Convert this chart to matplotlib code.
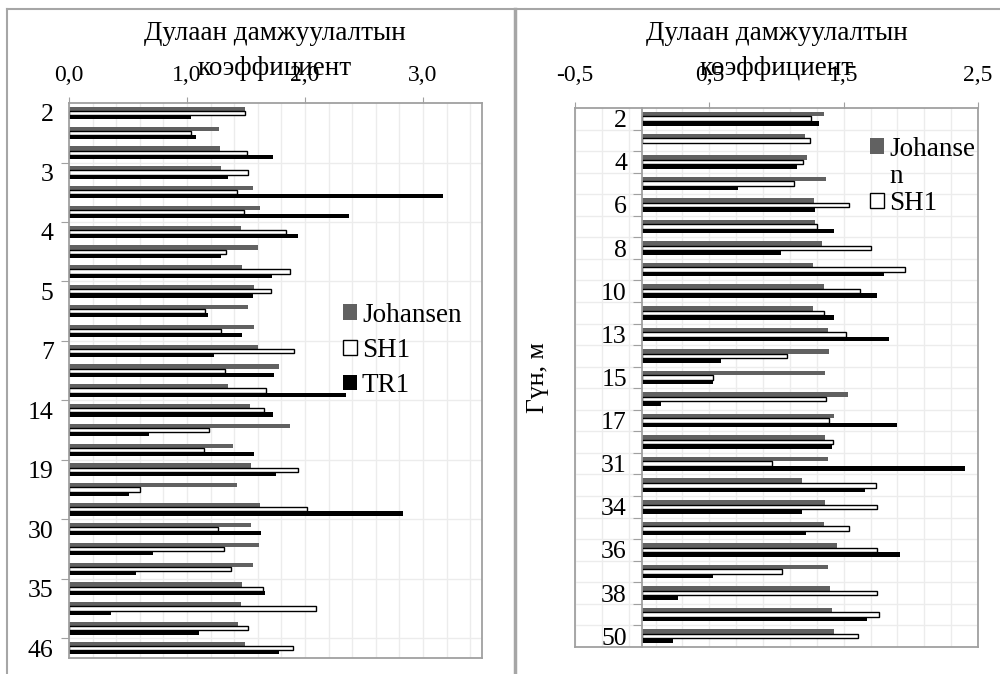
import matplotlib
matplotlib.use('Agg')
import matplotlib.pyplot as plt
from matplotlib.ticker import FuncFormatter, MultipleLocator, NullFormatter
from matplotlib.patches import Patch
from matplotlib.lines import Line2D
import numpy as np

plt.rcParams['font.family'] = ['Liberation Serif', 'DejaVu Serif']

# left chart: 28 depth rows, only every 3rd is labelled
left_depth = ['2', '', '', '3', '', '', '4', '', '', '5', '', '', '7', '', '',
              '14', '', '', '19', '', '', '30', '', '', '35', '', '', '46']
left_joh = [1.49, 1.27, 1.28, 1.29, 1.56, 1.62, 1.46, 1.60, 1.47, 1.57,
            1.52, 1.57, 1.60, 1.78, 1.35, 1.53, 1.87, 1.39, 1.54, 1.42,
            1.62, 1.54, 1.61, 1.56, 1.47, 1.46, 1.43, 1.49]
left_sh1 = [1.49, 1.03, 1.51, 1.52, 1.42, 1.48, 1.84, 1.33, 1.87, 1.71,
            1.15, 1.29, 1.91, 1.32, 1.67, 1.65, 1.19, 1.14, 1.94, 0.60,
            2.02, 1.26, 1.31, 1.37, 1.64, 2.09, 1.52, 1.90]
left_tr1 = [1.03, 1.08, 1.73, 1.35, 3.17, 2.37, 1.94, 1.29, 1.72, 1.56,
            1.18, 1.47, 1.23, 1.74, 2.35, 1.73, 0.68, 1.57, 1.75, 0.51,
            2.83, 1.63, 0.71, 0.57, 1.66, 0.36, 1.10, 1.78]

# right chart: 25 depth rows, every 2nd labelled
right_depth = ['2', '', '4', '', '6', '', '8', '', '10', '', '13', '', '15',
               '', '17', '', '31', '', '34', '', '36', '', '38', '', '50']
right_joh = [1.35, 1.21, 1.23, 1.37, 1.28, 1.29, 1.34, 1.27, 1.35, 1.27,
             1.38, 1.39, 1.36, 1.53, 1.43, 1.36, 1.38, 1.19, 1.36, 1.35,
             1.45, 1.38, 1.40, 1.41, 1.43]
right_sh1 = [1.26, 1.25, 1.20, 1.13, 1.54, 1.30, 1.70, 1.96, 1.62, 1.35,
             1.52, 1.08, 0.53, 1.37, 1.39, 1.42, 0.97, 1.74, 1.75, 1.54,
             1.75, 1.04, 1.75, 1.76, 1.61]
right_tr1 = [1.32, 0.0, 1.15, 0.71, 1.29, 1.43, 1.03, 1.80, 1.75, 1.43,
             1.84, 0.59, 0.53, 0.14, 1.90, 1.41, 2.40, 1.66, 1.19, 1.22,
             1.92, 0.53, 0.27, 1.67, 0.23]

gray = '#616161'
spinec = '#a0a0a0'
gridc = '#ececec'
fs_x = 17
fs_y = 18.5
fs_t = 19.5

comma = FuncFormatter(lambda v, p: ('%.1f' % v).replace('.', ','))

fig = plt.figure(figsize=(10, 6.74), dpi=100)
axL = fig.add_axes([0.069, 0.0237, 0.413, 0.8234])
axR = fig.add_axes([0.575, 0.0401, 0.403, 0.7997])


def bars(ax, joh, sh1, tr1):
    y = np.arange(len(joh))
    h = 0.21
    ax.barh(y - h, joh, height=h, color=gray, lw=0)
    ax.barh(y, sh1, height=h, color='white', edgecolor='black', lw=1)
    ax.barh(y + h, tr1, height=h, color='black', lw=0)
    ax.set_ylim(len(joh) - 0.5, -0.5)
    ax.set_axisbelow(True)
    for s in ax.spines.values():
        s.set_color(spinec)
        s.set_linewidth(1.3)
    ax.xaxis.tick_top()
    ax.xaxis.set_major_formatter(comma)
    ax.grid(axis='x', which='both', color=gridc, lw=1)
    ax.grid(axis='y', which='major', color=gridc, lw=1)
    ax.yaxis.set_major_formatter(NullFormatter())


bars(axL, left_joh, left_sh1, left_tr1)
axL.set_xlim(0, 3.5)
axL.xaxis.set_major_locator(MultipleLocator(1.0))
axL.xaxis.set_minor_locator(MultipleLocator(0.2))
axL.tick_params(axis='x', which='major', length=4.5, color=spinec, labelsize=fs_x, pad=8)
axL.tick_params(axis='x', which='minor', length=0)
axL.set_yticks(np.arange(2.5, len(left_depth) - 1, 3))
axL.set_yticks(np.arange(0, len(left_depth), 3), minor=True)
axL.set_yticklabels([left_depth[i] for i in range(0, len(left_depth), 3)], minor=True)
axL.tick_params(axis='y', which='major', length=6, color=spinec)
axL.tick_params(axis='y', which='minor', length=0, pad=11, labelsize=fs_y)

bars(axR, right_joh, right_sh1, right_tr1)
axR.set_xlim(-0.5, 2.5)
axR.set_xticks([-0.5, 0.5, 1.5, 2.5])
axR.set_xticks(np.arange(-0.5, 2.51, 0.2), minor=True)
axR.tick_params(axis='x', which='major', length=4.5, color=spinec, labelsize=fs_x, pad=11)
axR.tick_params(axis='x', which='minor', length=0)
axR.spines['left'].set_position(('data', 0))
axR.axvline(-0.5, color=spinec, lw=1.3, clip_on=False)
axR.set_yticks(np.arange(0.5, len(right_depth) - 1, 1))
axR.set_yticks(np.arange(0, len(right_depth), 2), minor=True)
axR.set_yticklabels([right_depth[i] for i in range(0, len(right_depth), 2)], minor=True)
axR.tick_params(axis='y', which='major', length=6.5, color=spinec)
axR.tick_params(axis='y', which='minor', length=0, pad=11, labelsize=fs_y)

title = 'Дулаан дамжуулалтын\nкоэффициент'
fig.text(0.275, 0.924, title, ha='center', va='center', fontsize=fs_t, linespacing=1.5)
fig.text(0.777, 0.924, title, ha='center', va='center', fontsize=fs_t, linespacing=1.5)
fig.text(0.538, 0.439, 'Гүн, м', rotation=90, ha='center', va='center', fontsize=18.5)

h_joh = Patch(facecolor=gray, edgecolor='none')
h_sh1 = Patch(facecolor='white', edgecolor='black', lw=1)
h_tr1 = Patch(facecolor='black', edgecolor='none')
h_none = Patch(facecolor='none', edgecolor='none')

fig.legend([h_joh, h_sh1, h_tr1], ['Johansen', 'SH1', 'TR1'], loc='upper left',
           bbox_to_anchor=(0.343, 0.551), frameon=False, fontsize=fs_t,
           handlelength=0.5, handleheight=0.5, handletextpad=0.2,
           labelspacing=0.38, borderpad=0, borderaxespad=0)
fig.legend([h_joh, h_none, h_sh1], ['Johanse', 'n', 'SH1'], loc='upper left',
           bbox_to_anchor=(0.870, 0.797), frameon=False, fontsize=fs_t,
           handlelength=0.5, handleheight=0.5, handletextpad=0.2,
           labelspacing=0.08, borderpad=0, borderaxespad=0)

# outer chart frames
bc = '#a6a6a6'
top = 1 - 9 / 674
fig.add_artist(Line2D([0.007, 1.0], [top, top], color=bc, lw=1.5, transform=fig.transFigure))
fig.add_artist(Line2D([0.007, 0.007], [0, top], color=bc, lw=1.5, transform=fig.transFigure))
fig.add_artist(Line2D([0.515, 0.515], [0, top], color=bc, lw=2.5, transform=fig.transFigure))

fig.savefig('out.png', dpi=100)
